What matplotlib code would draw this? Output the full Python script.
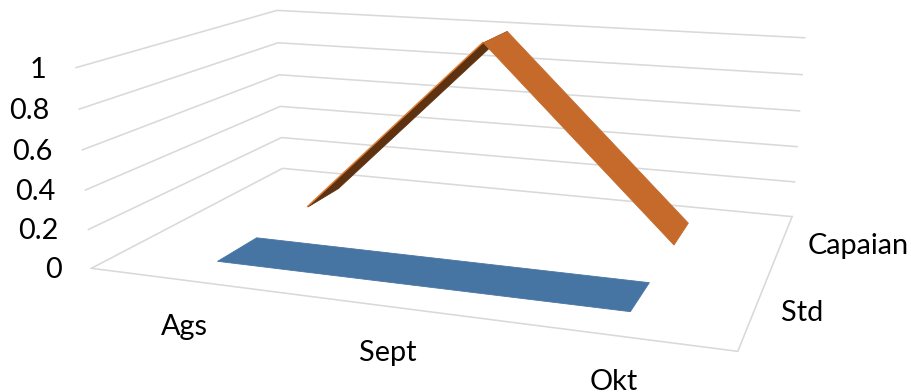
import numpy as np
import matplotlib
matplotlib.use("Agg")
import matplotlib.pyplot as plt
from mpl_toolkits.mplot3d import Axes3D, proj3d
from mpl_toolkits.mplot3d.art3d import Poly3DCollection

# Chart data
categories = ["Ags", "Sept", "Okt"]
series_names = ["Std", "Capaian"]
std_values = [0, 0, 0]
capaian_values = [0, 1, 0]
value_ticks = [0, 0.2, 0.4, 0.6, 0.8, 1]
value_tick_labels = ["0", "0.2", "0.4", "0.6", "0.8", "1"]

W, H = 911, 392
X_MAX, Y_MAX = len(categories), len(series_names)
RIBBON_HALF_DEPTH = 0.2

BLUE = "#4775A3"
ORANGE = "#C56A2A"
ORANGE_EDGE = "#E07B30"
BROWN = "#5E3210"
GRID = "#D9D9D9"
FONT = "Lato"
FONT_SIZE = 20.8


def solve_camera():
    """Fit a 3x4 camera matrix from the box corners' canvas positions."""
    heights = [1, 0.8, 0.6, 0.4, 0.2, 0]
    front = [(76.7, 67.7), (79.3, 109), (82.3, 150), (85, 190.7), (87.7, 229.7), (92, 267.5)]
    back = [(277, 10.3), (278, 42.7), (279, 74.7), (280.5, 106.7), (281.7, 137.3), (282.7, 168.3)]
    right = [(804.3, 37.7), (802.3, 74.3), (799.7, 110.7), (797.3, 147), (794.7, 182.3), (791.7, 216.7)]
    world, canvas = [], []
    for i, z in enumerate(heights):
        world += [(0, 0, z), (0, Y_MAX, z), (X_MAX, Y_MAX, z)]
        canvas += [front[i], back[i], right[i]]
    world.append((X_MAX, 0, 0))
    canvas.append((738, 351))
    rows = []
    for (a, b, c), (u, v) in zip(world, canvas):
        rows.append([a, b, c, 1, 0, 0, 0, 0, -u * a, -u * b, -u * c, -u])
        rows.append([0, 0, 0, 0, a, b, c, 1, -v * a, -v * b, -v * c, -v])
    return np.linalg.svd(np.array(rows, float))[2][-1].reshape(3, 4)


class FixedCameraAxes(Axes3D):
    """3D axes whose projection lands directly in canvas pixel coordinates."""

    camera = solve_camera()

    def get_proj(self):
        p = self.camera
        return np.array([p[0], p[1], [0, 1, 0, 0], p[2]])

    def apply_aspect(self, position=None):
        pass

    def set_top_view(self):
        self.viewLim.intervalx = (0, W)
        self.viewLim.intervaly = (H, 0)
        self.stale = True


plt.rcParams["font.family"] = [FONT, "DejaVu Sans"]
fig = plt.figure(figsize=(W / 100, H / 100), dpi=100, facecolor="white")
ax = FixedCameraAxes(fig, rect=[0, 0, 1, 1], proj_type="ortho", computed_zorder=False)
fig.add_axes(ax)
ax.set_axis_off()
ax.set_xlim(0, X_MAX)
ax.set_ylim(0, Y_MAX)
ax.set_zlim(0, 1)

# Walls and floor
grid_style = dict(color=GRID, lw=1.15, zorder=1, solid_joinstyle="miter")
for v in value_ticks:
    ax.plot([0, 0, X_MAX], [0, Y_MAX, Y_MAX], [v, v, v], **grid_style)
ax.plot([0, X_MAX, X_MAX], [0, 0, Y_MAX], [0, 0, 0], **grid_style)


def ribbon_segment(i, centre, values):
    y0, y1 = centre - RIBBON_HALF_DEPTH, centre + RIBBON_HALF_DEPTH
    x0, x1 = i + 0.5, i + 1.5
    return [(x0, y0, values[i]), (x1, y0, values[i + 1]),
            (x1, y1, values[i + 1]), (x0, y1, values[i])]


def add_segment(i, centre, values, face, edge, zorder):
    poly = Poly3DCollection([ribbon_segment(i, centre, values)], facecolors=face,
                            edgecolors=edge, linewidths=0.6, zorder=zorder)
    ax.add_collection3d(poly, autolim=False)


# Std ribbon lies flat on the floor
for i in range(len(categories) - 1):
    add_segment(i, 0.5, std_values, BLUE, BLUE, 2)

# Capaian ribbon: the rising part shows its underside, the falling part its top
add_segment(0, 1.5, capaian_values, BROWN, BROWN, 3)
ax.plot([0.5, 1.5], [1.5 - RIBBON_HALF_DEPTH] * 2, capaian_values[:2],
        color=ORANGE_EDGE, lw=1.0, zorder=4)
add_segment(1, 1.5, capaian_values, ORANGE, ORANGE, 5)


def axis_label(x, y, z, label, dx, dy, ha):
    """Place a flat label at a pixel pad from a projected axis position."""
    px, py, _ = proj3d.proj_transform(x, y, z, ax.get_proj())
    ax.text2D(px + dx, py + dy, label, transform=ax.transData, ha=ha, va="center",
              fontsize=FONT_SIZE, color="black")


for v, label in zip(value_ticks, value_tick_labels):
    axis_label(0, 0, v, label, -30, 2, "right")
for i, label in enumerate(categories):
    axis_label(i + 0.5, 0, 0, label, 0, 47, "center")
for j, label in enumerate(series_names):
    axis_label(X_MAX, j + 0.5, 0, label, 26, 3, "left")

fig.savefig("out.png", dpi=100)
